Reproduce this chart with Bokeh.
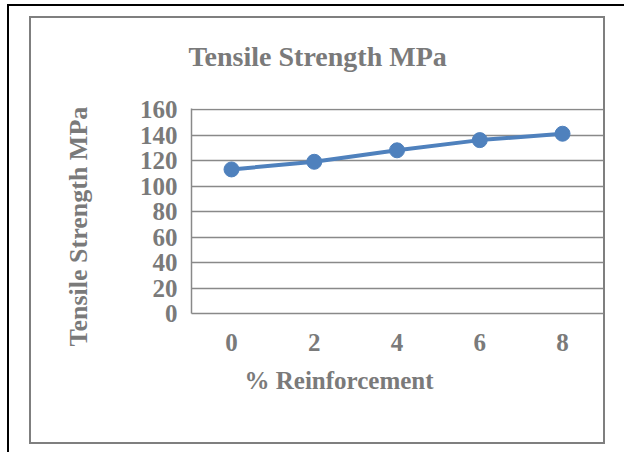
from bokeh.plotting import figure
from bokeh.models import Range1d, FixedTicker, Title
from bokeh.embed import file_html
from bokeh.resources import INLINE

# Data
reinforcement = [0, 2, 4, 6, 8]
tensile_strength = [113, 119, 128, 136, 141]
y_ticks = [0, 20, 40, 60, 80, 100, 120, 140, 160]

title_text = "Tensile Strength MPa"
x_label_text = "% Reinforcement"
y_label_text = "Tensile Strength MPa"

FONT = "Liberation Serif"
TEXT_COLOR = "#7a7a7a"
GRID_COLOR = "#898989"
LINE_COLOR = "#4f81bd"

W, H = 624, 452
FL, FR, FT, FB = 191, 603, 108, 313   # frame edges in canvas px

p = figure(width=W, height=H, output_backend="svg", toolbar_location=None,
           x_range=Range1d(-0.967, 8.99), y_range=Range1d(0, 160.8),
           min_border_left=FL, min_border_right=W - FR,
           min_border_top=FT, min_border_bottom=H - FB)
p.background_fill_color = None
p.border_fill_color = None
p.outline_line_color = None

# chart title
p.title.text = title_text
p.title.align = "left"
p.title.offset = -3
p.title.standoff = 74
p.title.text_font = FONT
p.title.text_font_style = "bold"
p.title.text_font_size = "28px"
p.title.text_color = TEXT_COLOR

# axes
p.xaxis.ticker = FixedTicker(ticks=reinforcement)
p.yaxis.ticker = FixedTicker(ticks=y_ticks)
for ax in (p.xaxis[0], p.yaxis[0]):
    ax.major_tick_line_color = None
    ax.minor_tick_line_color = None
    ax.major_tick_out = 0
    ax.major_tick_in = 0
    ax.axis_line_color = GRID_COLOR
    ax.axis_line_width = 1.5
    ax.major_label_text_font = FONT
    ax.major_label_text_font_style = "bold"
    ax.major_label_text_font_size = "25px"
    ax.major_label_text_color = TEXT_COLOR
p.yaxis.major_label_standoff = 14
p.xaxis.major_label_standoff = 20

# axis titles
x_title = Title(text=x_label_text, align="left", offset=53, standoff=26,
                vertical_align="top", text_font=FONT, text_font_style="bold",
                text_font_size="25px", text_color=TEXT_COLOR)
y_title = Title(text=y_label_text, align="left", offset=-33, standoff=88,
                vertical_align="bottom", text_font=FONT, text_font_style="bold",
                text_font_size="26px", text_color=TEXT_COLOR)
p.add_layout(x_title, "below")
p.add_layout(y_title, "left")

p.xgrid.grid_line_color = None
p.ygrid.grid_line_color = GRID_COLOR
p.ygrid.grid_line_width = 1.5

# series
p.line(reinforcement, tensile_strength, line_color=LINE_COLOR, line_width=4)
p.scatter(reinforcement, tensile_strength, size=15, marker="circle",
          fill_color=LINE_COLOR, line_color=LINE_COLOR)

# chart-area box (gray) and outer page frame (black) drawn behind the canvas
g = "linear-gradient(#7f7f7f,#7f7f7f)"
k = "linear-gradient(#000,#000)"
p.styles = {
    "background-color": "white",
    "background-image": ", ".join([k, k, g, g, g, g]),
    "background-position": "7px 4px, 7px 4px, 29px 16px, 29px 442px, 29px 16px, 603px 16px",
    "background-size": "617px 2px, 2px 448px, 576px 2px, 576px 2px, 2px 428px, 2px 428px",
    "background-repeat": "no-repeat",
}

open("out.html", "w").write(file_html(p, INLINE))
